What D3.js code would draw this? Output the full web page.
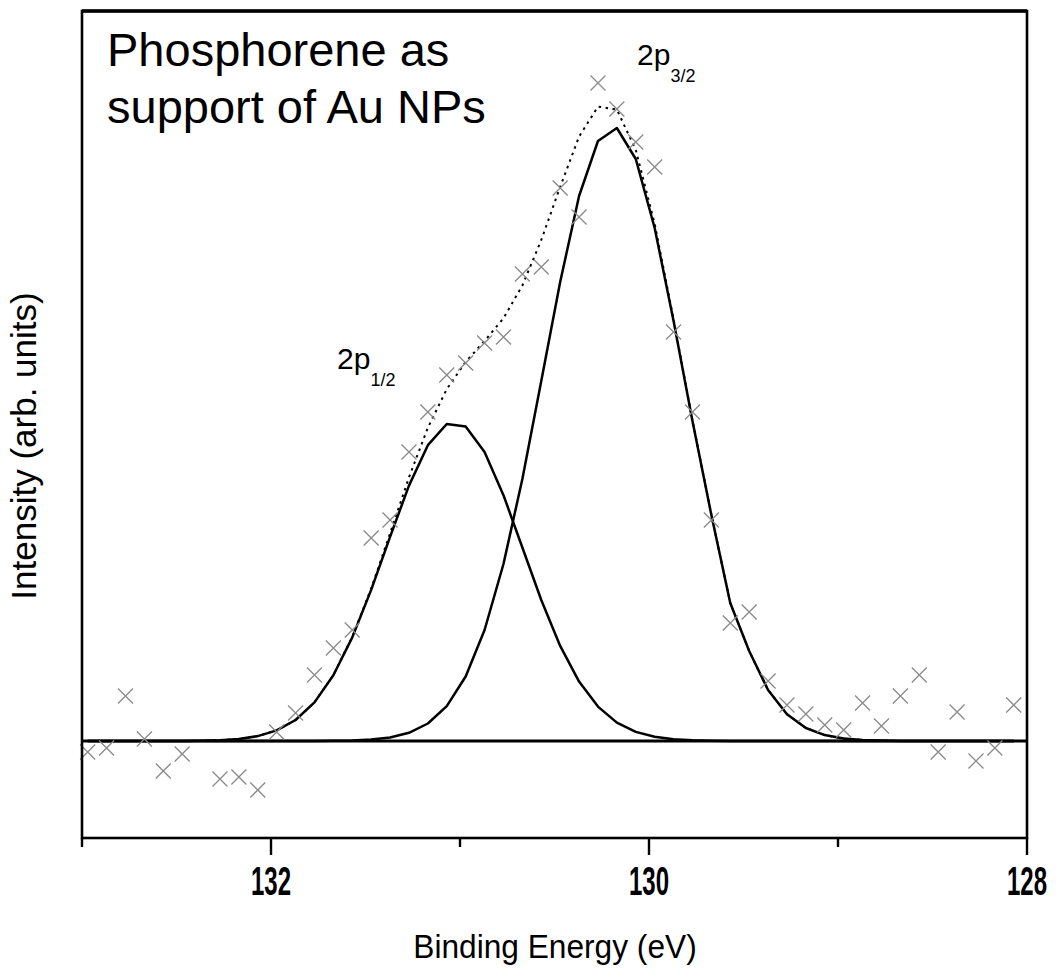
<!DOCTYPE html>
<html>
<head>
<meta charset="utf-8">
<script src="https://cdn.jsdelivr.net/npm/d3@7"></script>
<style>
    body { margin: 0; background: #fff; }
    text { font-family: "Liberation Sans", Arial, sans-serif; fill: #000; }
</style>
</head>
<body>
<script>
// binding energy grid of the measurement (eV)
var energies = [132.97, 132.87, 132.77, 132.67, 132.57, 132.47, 132.37, 132.27, 132.17, 132.07,
    131.97, 131.87, 131.77, 131.67, 131.57, 131.47, 131.37, 131.27, 131.17, 131.07,
    130.97, 130.87, 130.77, 130.67, 130.57, 130.47, 130.37, 130.27, 130.17, 130.07,
    129.97, 129.87, 129.77, 129.67, 129.57, 129.47, 129.37, 129.27, 129.17, 129.07,
    128.97, 128.87, 128.77, 128.67, 128.57, 128.47, 128.37, 128.27, 128.17, 128.07];

// measured points (background subtracted), null = not visible
var measured = [-11, -7, 45, 2, -30, -13, null, -38, -36, -49,
    9, 28, 66, 93, 111, 203, 221, 289, 329, 366,
    378, 398, 404, 467, 474, 553, 524, 658, 632, 599,
    574, 409, 329, 221, 118, 129, 60, 36, 27, 16,
    11, 38, 15, 45, 66, -11, 29, -20, -7, 36];

// fitted 2p3/2 component
var fit32 = [0, 0, 0, 0, 0, 0, 0, 0, 0, 0,
    0, 0, 0, 0.2, 0.5, 1.4, 3.5, 8.2, 17.5, 34.9,
    64.5, 111, 177, 262, 360, 459, 545, 600, 613, 582,
    513, 420, 320, 226, 138, 90, 51, 26.8, 13, 5.9,
    2.5, 1.0, 0.4, 0, 0, 0, 0, 0, 0, 0];

// fitted 2p1/2 component
var fit12 = [0, 0, 0, 0, 0, 0, 0.3, 0.8, 2.1, 4.9,
    10.6, 21, 38.6, 65.7, 103.6, 151.1, 204.2, 255.4, 295.8, 317,
    314.6, 289, 245.8, 193.5, 141, 95.1, 59.4, 34.4, 18.4, 9.1,
    4.2, 1.8, 0.7, 0.2, 0, 0, 0, 0, 0, 0,
    0, 0, 0, 0, 0, 0, 0, 0, 0, 0];

// fit envelope (dotted)
var envelope = [0, 0, 0, 0, 0, 0, 0.3, 0.8, 2.1, 4.9,
    10.6, 21, 38.6, 65.9, 104.1, 152.5, 207.7, 263.6, 313.3, 351.9,
    379.1, 400, 422.8, 455.5, 501, 554.1, 604.4, 634.4, 631.4, 591.1,
    517.2, 421.8, 320.7, 226.2, 138, 90, 51, 26.8, 13, 5.9,
    2.5, 1.0, 0.4, 0, 0, 0, 0, 0, 0, 0];

var majorTicks = [132, 130, 128];
var minorTicks = [133, 131, 129];
var tickLabels = ["132", "130", "128"];

function plot_it() {
    var width = 1063,
        height = 972;
    var left = 82, right = 1027, top = 11, bottom = 838;

    var svg = d3.select('body').append('svg').attr('width', width).attr('height', height);

    var x = d3.scaleLinear().domain([133, 128]).range([left, right]);
    var y = d3.scaleLinear().domain([-97, 730]).range([bottom, top]);

    // baseline
    svg.append('line')
        .attr('x1', x(133)).attr('x2', x(128))
        .attr('y1', y(0)).attr('y2', y(0))
        .attr('stroke', '#000').attr('stroke-width', 3);

    var line = d3.line()
        .x(function (d, i) { return x(energies[i]); })
        .y(function (d) { return y(d); });

    // the two components
    [fit12, fit32].forEach(function (s) {
        svg.append('path')
            .datum(s)
            .attr('fill', 'none')
            .attr('stroke', '#000')
            .attr('stroke-width', 2.5)
            .attr('stroke-linejoin', 'round')
            .attr('d', line);
    });

    // envelope
    svg.append('path')
        .datum(envelope)
        .attr('fill', 'none')
        .attr('stroke', '#000')
        .attr('stroke-width', 2)
        .style('stroke-dasharray', '2.5,4.5')
        .attr('d', line);

    // measured points as crosses
    var pts = measured.map(function (v, i) { return {e: energies[i], v: v}; })
        .filter(function (d) { return d.v !== null; });
    var s = 7.5;
    svg.append('g').selectAll('path').data(pts).enter()
        .append('path')
        .attr('d', function (d) {
            var cx = x(d.e), cy = y(d.v);
            return 'M' + (cx - s) + ',' + (cy - s) + 'L' + (cx + s) + ',' + (cy + s) +
                'M' + (cx - s) + ',' + (cy + s) + 'L' + (cx + s) + ',' + (cy - s);
        })
        .attr('stroke', '#8a8a8a')
        .attr('stroke-width', 1.3)
        .attr('fill', 'none');

    // frame
    svg.append('rect')
        .attr('x', left).attr('y', top)
        .attr('width', right - left).attr('height', bottom - top)
        .attr('fill', 'none').attr('stroke', '#000').attr('stroke-width', 2.6);
    svg.append('line')
        .attr('x1', left).attr('x2', right).attr('y1', top).attr('y2', top)
        .attr('stroke', '#000').attr('stroke-width', 3.4);

    // ticks
    svg.append('g').selectAll('line').data(majorTicks).enter().append('line')
        .attr('x1', function (d) { return x(d); }).attr('x2', function (d) { return x(d); })
        .attr('y1', bottom).attr('y2', bottom + 17)
        .attr('stroke', '#000').attr('stroke-width', 2.4);
    svg.append('g').selectAll('line').data(minorTicks).enter().append('line')
        .attr('x1', function (d) { return x(d); }).attr('x2', function (d) { return x(d); })
        .attr('y1', bottom).attr('y2', bottom + 9)
        .attr('stroke', '#000').attr('stroke-width', 2.4);

    svg.append('g').selectAll('text').data(majorTicks).enter().append('text')
        .attr('transform', function (d) { return 'translate(' + x(d) + ',895) scale(0.6,1)'; })
        .attr('text-anchor', 'middle')
        .style('font-size', '40px')
        .style('font-weight', 'bold')
        .text(function (d, i) { return tickLabels[i]; });

    // axis titles
    svg.append('text')
        .attr('transform', 'translate(555,958) scale(0.96,1)')
        .attr('text-anchor', 'middle')
        .style('font-size', '33px')
        .text('Binding Energy (eV)');

    svg.append('text')
        .attr('transform', 'translate(36,446) rotate(-90)')
        .attr('text-anchor', 'middle')
        .style('font-size', '35px')
        .text('Intensity (arb. units)');

    // peak labels
    function peakLabel(px, py, sub) {
        var t = svg.append('text').attr('x', px).attr('y', py).style('font-size', '30px');
        t.append('tspan').text('2p');
        t.append('tspan').attr('dy', 17).style('font-size', '18px').text(sub);
    }
    peakLabel(637, 65, '3/2');
    peakLabel(337, 369, '1/2');

    // title
    var title = svg.append('text').style('font-size', '47px');
    title.append('tspan').attr('x', 107).attr('y', 66).text('Phosphorene as');
    title.append('tspan').attr('x', 107).attr('y', 123).text('support of Au NPs');
}

plot_it();
</script>
</body>
</html>
